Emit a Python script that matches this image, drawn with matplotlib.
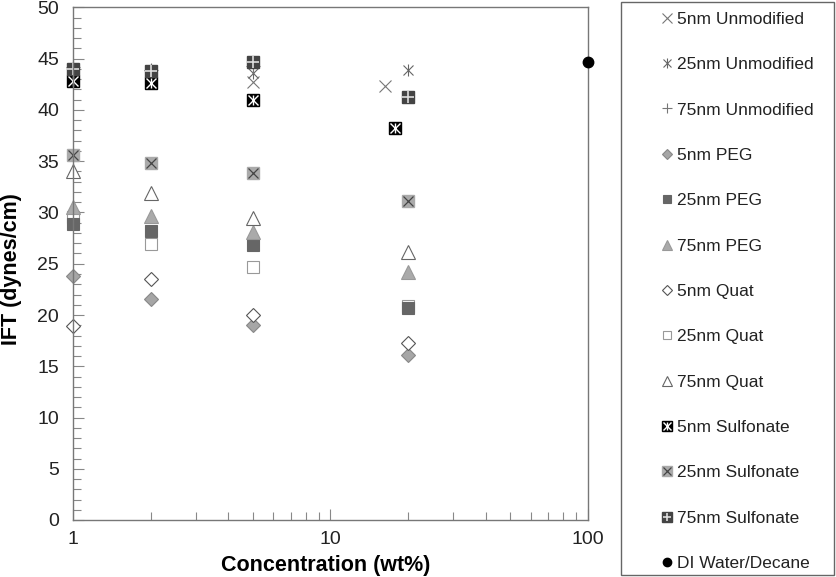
import matplotlib
matplotlib.use("Agg")
import matplotlib.pyplot as plt
from matplotlib.patches import Rectangle
from matplotlib.ticker import FixedLocator, NullFormatter, FixedFormatter

plt.rcParams["font.family"] = ["Liberation Sans", "DejaVu Sans"]

# ── Data (concentration wt%, IFT dynes/cm) ──────────────────────────────────
unmod5_x = [1, 2, 5, 16.3]
unmod5_y = [42.8, 42.8, 42.7, 42.3]
unmod25_x = [1, 2, 5, 20]
unmod25_y = [43.0, 43.0, 43.6, 43.9]
unmod75_x = [1, 2, 5]
unmod75_y = [44.2, 43.9, 44.3]

peg5_x = [1, 2, 5, 20]
peg5_y = [23.8, 21.6, 19.0, 16.1]
peg25_x = [1, 2, 5, 20]
peg25_y = [28.9, 28.2, 26.8, 20.7]
peg75_x = [1, 2, 5, 20]
peg75_y = [30.5, 29.7, 28.1, 24.2]

quat5_x = [1, 2, 5, 20]
quat5_y = [18.9, 23.5, 20.0, 17.3]
quat25_x = [1, 2, 5, 20]
quat25_y = [29.6, 26.9, 24.7, 20.9]
quat75_x = [1, 2, 5, 20]
quat75_y = [34.0, 31.9, 29.5, 26.1]

sulf5_x = [1, 2, 5, 17.8]
sulf5_y = [42.8, 42.6, 41.0, 38.2]
sulf25_x = [1, 2, 5, 20]
sulf25_y = [35.6, 34.8, 33.9, 31.1]
sulf75_x = [1, 2, 5, 20]
sulf75_y = [44.0, 43.8, 44.7, 41.3]

water_x = [100]
water_y = [44.7]

labels = ["5nm Unmodified", "25nm Unmodified", "75nm Unmodified", "5nm PEG",
          "25nm PEG", "75nm PEG", "5nm Quat", "25nm Quat", "75nm Quat",
          "5nm Sulfonate", "25nm Sulfonate", "75nm Sulfonate",
          "DI Water/Decane"]

# ── Figure ──────────────────────────────────────────────────────────────────
fig = plt.figure(figsize=(8.37, 5.77), dpi=100)
ax = fig.add_axes([73 / 837, 57 / 577, 515 / 837, 512.5 / 577])

spine_col = "#777777"
kw = dict(linestyle="none", clip_on=False)

# plotted in back-to-front order
h_quat25, = ax.plot(quat25_x, quat25_y, marker="s", ms=8, mfc="white",
                    mec="#999999", mew=0.8, **kw)
h_peg5, = ax.plot(peg5_x, peg5_y, marker="D", ms=7, mfc="#a6a6a6",
                  mec="#888888", mew=0.8, **kw)
h_peg25, = ax.plot(peg25_x, peg25_y, marker="s", ms=8, mfc="#666666",
                   mec="#666666", mew=0.8, **kw)
h_peg75, = ax.plot(peg75_x, peg75_y, marker="^", ms=9.5, mfc="#aaaaaa",
                   mec="#999999", mew=0.8, **kw)
h_quat5, = ax.plot(quat5_x, quat5_y, marker="D", ms=7, mfc="white",
                   mec="#555555", mew=0.8, **kw)
h_quat75, = ax.plot(quat75_x, quat75_y, marker="^", ms=9.5, mfc="white",
                    mec="#666666", mew=0.8, **kw)
h_unmod5, = ax.plot(unmod5_x, unmod5_y, marker="x", ms=8.5, mec="#777777",
                    mew=0.8, **kw)
h_unmod25a, = ax.plot(unmod25_x, unmod25_y, marker="x", ms=7.5, mec="#666666",
                      mew=0.8, **kw)
h_unmod25b, = ax.plot(unmod25_x, unmod25_y, marker="|", ms=8.5, mec="#666666",
                      mew=0.8, **kw)
h_unmod75, = ax.plot(unmod75_x, unmod75_y, marker="+", ms=9.5, mec="#777777",
                     mew=0.8, **kw)

s5a, = ax.plot(sulf5_x, sulf5_y, marker="s", ms=8.5, mfc="black", mec="black", **kw)
s5b, = ax.plot(sulf5_x, sulf5_y, marker="x", ms=6.5, mec="white", mew=1.0, **kw)
s5c, = ax.plot(sulf5_x, sulf5_y, marker="|", ms=6.5, mec="white", mew=1.0, **kw)
s25a, = ax.plot(sulf25_x, sulf25_y, marker="s", ms=8.5, mfc="#aaaaaa",
                mec="#aaaaaa", **kw)
s25b, = ax.plot(sulf25_x, sulf25_y, marker="x", ms=7.5, mec="#444444", mew=0.9, **kw)
s75a, = ax.plot(sulf75_x, sulf75_y, marker="s", ms=8.5, mfc="#444444",
                mec="#444444", **kw)
s75b, = ax.plot(sulf75_x, sulf75_y, marker="+", ms=8, mec="#dddddd", mew=1.2, **kw)

h_water, = ax.plot(water_x, water_y, marker="o", ms=7.5, mfc="black",
                   mec="black", zorder=5, **kw)

# ── Axes styling ────────────────────────────────────────────────────────────
ax.set_xscale("log")
ax.set_xlim(1, 100)
ax.set_ylim(0, 50)

for s in ax.spines.values():
    s.set_color(spine_col)
    s.set_linewidth(1.0)

ax.xaxis.set_major_locator(FixedLocator([1, 10, 100]))
ax.xaxis.set_major_formatter(FixedFormatter(["1", "10", "100"]))
ax.xaxis.set_minor_locator(FixedLocator([2, 3, 4, 5, 6, 7, 8, 9,
                                         20, 30, 40, 50, 60, 70, 80, 90]))
ax.xaxis.set_minor_formatter(NullFormatter())
ax.yaxis.set_major_locator(FixedLocator(range(0, 51, 5)))
ax.yaxis.set_minor_locator(FixedLocator(range(0, 51, 1)))

ax.tick_params(which="both", direction="in", top=False, right=False,
               color="#888888", width=0.8)
ax.tick_params(which="major", length=8, labelsize=14, labelcolor="#222222")
ax.tick_params(which="minor", length=6)
ax.tick_params(axis="y", which="major", pad=10)
ax.tick_params(axis="x", which="major", pad=8)

ax.set_xlabel("Concentration (wt%)", fontsize=15.5, fontweight="bold")
ax.set_ylabel("IFT (dynes/cm)", fontsize=15.5, fontweight="bold")
ax.xaxis.set_label_coords(0.49, -0.068)
ax.yaxis.set_label_coords(-0.099, 0.49)

# ── Legend ──────────────────────────────────────────────────────────────────
fig.patches.append(Rectangle((621 / 837, 2 / 577), 213 / 837, 573 / 577,
                             transform=fig.transFigure, fill=False,
                             edgecolor="#666666", linewidth=1.0))

handles = [h_unmod5, (h_unmod25a, h_unmod25b), h_unmod75, h_peg5, h_peg25,
           h_peg75, h_quat5, h_quat25, h_quat75, (s5a, s5b, s5c),
           (s25a, s25b), (s75a, s75b), h_water]
leg = fig.legend(handles, labels, loc="upper left",
                 bbox_to_anchor=(652 / 837, 1 - 3 / 577), frameon=False,
                 fontsize=12.5, handlelength=0.7, handletextpad=0.25,
                 labelspacing=1.74, borderpad=0, markerscale=0.8)
for t in leg.get_texts():
    t.set_color("#222222")

fig.savefig("out.png", dpi=100)
